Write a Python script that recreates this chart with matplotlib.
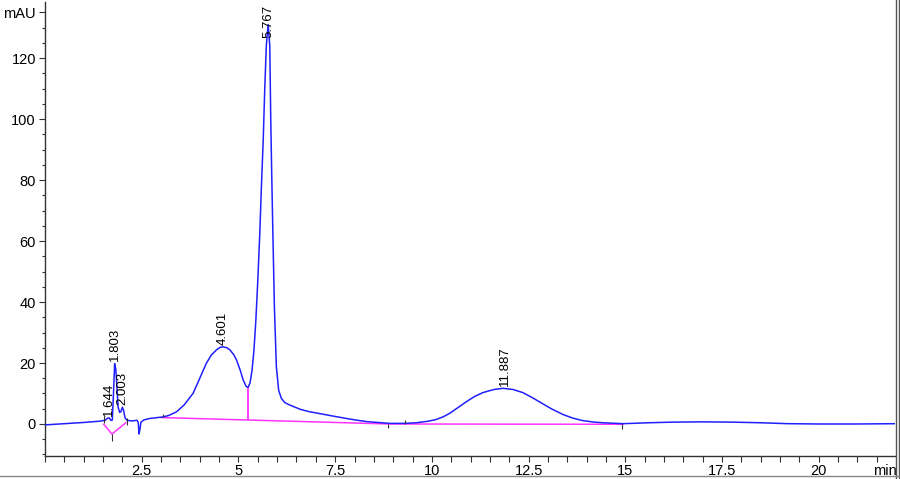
import numpy as np
import matplotlib
matplotlib.use("Agg")
import matplotlib.pyplot as plt
from matplotlib.lines import Line2D
from matplotlib.ticker import MultipleLocator

plt.rcParams['font.family'] = ['Liberation Sans', 'DejaVu Sans']

# chromatogram signal (min, mAU)
time_min = [0.0, 0.5, 1.0, 1.4, 1.55, 1.62, 1.66, 1.70, 1.74, 1.77, 1.80, 1.83, 1.86,
            1.89, 1.93, 1.96, 2.00, 2.03, 2.07, 2.12, 2.25, 2.38, 2.41, 2.43, 2.45, 2.48,
            2.55, 2.70, 2.90, 3.05, 3.20, 3.40, 3.60, 3.83, 4.00, 4.17, 4.30, 4.43, 4.52,
            4.60, 4.70, 4.78, 4.88, 4.95, 5.05, 5.12, 5.20, 5.25, 5.30, 5.35, 5.40, 5.45,
            5.50, 5.55, 5.60, 5.64, 5.68, 5.72, 5.767, 5.81, 5.835, 5.86, 5.89, 5.93,
            5.98, 6.04, 6.11, 6.20, 6.33, 6.60, 6.84, 7.02, 7.40, 7.88, 8.30, 8.90, 9.30,
            9.60, 9.90, 10.12, 10.30, 10.46, 10.70, 10.89, 11.10, 11.32, 11.60, 11.84,
            12.10, 12.35, 12.60, 12.87, 13.10, 13.39, 13.65, 13.90, 14.20, 14.42, 14.94,
            15.60, 16.20, 17.00, 17.80, 18.50, 19.20, 20.00, 21.00, 22.00]
signal_mau = [-0.3, 0.1, 0.5, 0.9, 1.2, 1.9, 2.0, 1.2, 1.3, 10.0, 19.8, 18.0, 12.0,
              5.5, 3.8, 4.0, 5.5, 4.5, 2.0, 1.2, 1.0, 1.2, 0.5, -3.3, -2.0, 0.6,
              1.3, 1.8, 2.1, 2.3, 2.8, 4.0, 6.3, 10.1, 15.0, 19.9, 22.6, 24.3, 25.1,
              25.3, 25.0, 24.3, 22.7, 21.0, 17.5, 14.5, 12.3, 12.0, 13.5, 17.5, 24.0, 34.0,
              47.0, 62.0, 80.0, 93.0, 110.0, 124.0, 131.0, 124.0, 100.0, 82.0, 62.5, 38.0,
              18.8, 11.0, 8.4, 7.0, 6.2, 4.8, 4.0, 3.6, 2.7, 1.6, 0.8, 0.2, 0.2,
              0.4, 0.9, 1.5, 2.4, 3.5, 5.6, 7.3, 9.0, 10.3, 11.3, 11.7,
              11.3, 10.3, 8.6, 6.6, 4.9, 3.1, 1.9, 1.1, 0.6, 0.4, 0.1,
              0.4, 0.6, 0.7, 0.6, 0.4, 0.1, 0.0, 0.0, 0.1]

# integration baselines (pink)
base1_t = [1.52, 1.73, 2.09]
base1_y = [-0.1, -3.3, 0.4]
base2_t = [3.01, 8.90, 14.94]
base2_y = [2.1, 0.0, -0.1]
drop_t = [5.24]
drop_low = [1.3]
drop_high = [12.0]

# integration event marks
event_t = [1.52, 1.73, 2.12, 3.05, 8.87, 9.30, 14.92]
event_lo = [0.3, -5.5, -0.3, 2.2, -1.3, 0.1, -1.5]
event_hi = [2.5, -3.3, 1.8, 3.4, 0.1, 1.4, 0.1]

# peak labels
peak_t = [1.644, 1.803, 2.003, 4.601, 5.767, 11.887]
peak_h = [2.0, 19.9, 5.5, 25.3, 131.0, 11.7]
peak_lbl = ['1.644', '1.803', '2.003', '4.601', '5.767', '11.887']

y_major = [0, 20, 40, 60, 80, 100, 120, 135]
y_major_lbl = ['0', '20', '40', '60', '80', '100', '120', 'mAU']
x_major = [2.5, 5, 7.5, 10, 12.5, 15, 17.5, 20]
x_major_lbl = ['2.5', '5', '7.5', '10', '12.5', '15', '17.5', '20']

fig = plt.figure(figsize=(9, 4.79), dpi=100)
ax = fig.add_axes([45 / 900, 1 - 456 / 479, 850 / 900, 454 / 479])

ax.plot(time_min, signal_mau, color='#2020ff', lw=1.1, zorder=3)
ax.plot(base1_t, base1_y, color='#ff33ff', lw=1.1, zorder=2)
ax.plot(base2_t, base2_y, color='#ff33ff', lw=1.1, zorder=2)
ax.vlines(drop_t, drop_low, drop_high, color='#ff33ff', lw=1.3, zorder=2)
ax.vlines(event_t, event_lo, event_hi, color='#333333', lw=0.8, zorder=4)

ylim_top = 138.4
for t, h, s in zip(peak_t, peak_h, peak_lbl):
    if h > 125:
        ax.text(t, ylim_top - 1.0, s, rotation=90, ha='center', va='top', fontsize=9.5)
    else:
        ax.annotate(s, xy=(t, h), xytext=(0, 1.5), textcoords='offset points',
                    rotation=90, ha='center', va='bottom', fontsize=9.5)

ax.set_xlim(0, 21.97)
ax.set_ylim(-10.5, ylim_top)
ax.set_xticks(x_major)
ax.set_xticklabels(x_major_lbl)
ax.xaxis.set_minor_locator(MultipleLocator(0.5))
ax.set_yticks(y_major)
ax.set_yticklabels(y_major_lbl)
ax.yaxis.set_minor_locator(MultipleLocator(5))

ax.tick_params(axis='x', which='major', length=4, width=0.8, color='#333333', labelsize=10.5, pad=1.5)
ax.tick_params(axis='x', which='minor', length=4, width=0.8, color='#333333')
ax.tick_params(axis='y', which='major', length=4.5, width=0.8, color='#333333', labelsize=10.5, pad=2)
ax.tick_params(axis='y', which='minor', length=2.5, width=0.8, color='#333333')

for side in ['top', 'right']:
    ax.spines[side].set_visible(False)
for side in ['left', 'bottom']:
    ax.spines[side].set_color('#333333')
    ax.spines[side].set_linewidth(1.0)

ax.annotate('min', xy=(21.7, 0), xycoords=('data', 'axes fraction'), xytext=(0, -5.5),
            textcoords='offset points', ha='center', va='top', fontsize=10.5)

# page border lines
fig.add_artist(Line2D([896 / 900, 896 / 900], [0, 1], color='#555555', lw=1.0))
fig.add_artist(Line2D([898.5 / 900, 898.5 / 900], [0, 1], color='#555555', lw=1.0))
fig.add_artist(Line2D([0, 1], [1 - 476 / 479, 1 - 476 / 479], color='#888888', lw=1.0))

fig.savefig('out.png', dpi=100)
